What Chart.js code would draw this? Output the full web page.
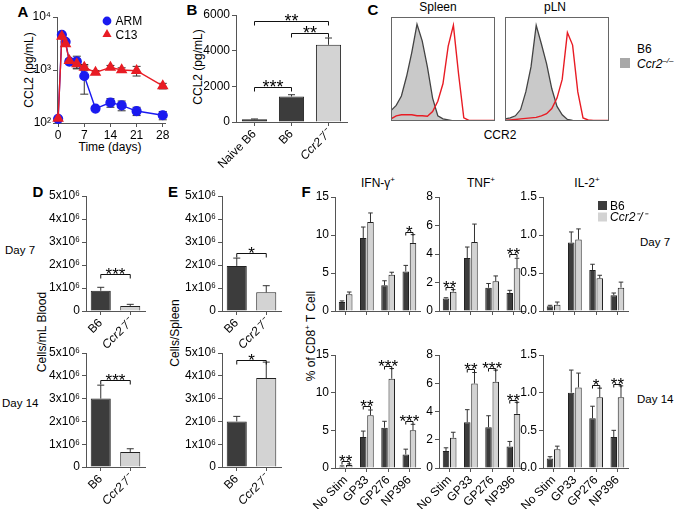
<!DOCTYPE html>
<html>
<head>
<meta charset="utf-8">
<script src="https://cdn.jsdelivr.net/npm/chart.js@4.4.1/dist/chart.umd.min.js"></script>
<style>
  html, body { margin: 0; padding: 0; background: #fff; }
  #fig { position: relative; width: 675px; height: 509px; overflow: hidden;
         font-family: 'Liberation Sans', Arial, Helvetica, sans-serif; color: #000; }
  #fig canvas { position: absolute; }
  .t { position: absolute; font-size: 12px; white-space: nowrap; line-height: 1; }
  .letter { font-weight: bold; font-size: 15px; }
  .rot { transform: translate(-50%, -50%) rotate(-90deg); }
  .ctr { transform: translate(-50%, -50%); }
  .mid { transform: translateY(-50%); }
  .it { font-style: italic; }
  .sp { font-size: 8px; position: relative; top: -5px; }
  .day { font-size: 11.5px; }
</style>
</head>
<body>
<div id="fig">
  <div class="t letter ctr" style="left:23px;top:11px">A</div>
  <div class="t letter ctr" style="left:192px;top:9px">B</div>
  <div class="t letter ctr" style="left:373px;top:9px">C</div>
  <div class="t letter ctr" style="left:38px;top:191px">D</div>
  <div class="t letter ctr" style="left:173px;top:191px">E</div>
  <div class="t letter ctr" style="left:306px;top:191px">F</div>

  <div class="t rot" style="left:29px;top:70px">CCL2 (pg/mL)</div>
  <div class="t ctr" style="left:110px;top:147px">Time (days)</div>
  <div class="t rot" style="left:198px;top:67px">CCL2 (pg/mL)</div>

  <div class="t ctr" style="left:438px;top:7px">Spleen</div>
  <div class="t ctr" style="left:555px;top:7px">pLN</div>
  <div class="t ctr" style="left:500px;top:135px">CCR2</div>
  <div class="t mid" style="left:637px;top:49px">B6</div>
  <div style="position:absolute;left:620px;top:58px;width:10px;height:10px;background:#a8a8a8"></div>
  <div class="t mid it" style="left:637px;top:64px">Ccr2<span class="sp">–/–</span></div>

  <div class="t rot" style="left:42px;top:332px">Cells/mL Blood</div>
  <div class="t rot" style="left:175px;top:333px">Cells/Spleen</div>
  <div class="t mid day" style="left:5px;top:251px">Day 7</div>
  <div class="t mid day" style="left:2px;top:404px">Day 14</div>

  <div class="t rot" style="left:311px;top:336px">% of CD8<span class="sp">+</span> T Cell</div>
  <div class="t ctr" style="left:378px;top:183px">IFN-γ<span class="sp">+</span></div>
  <div class="t ctr" style="left:481px;top:183px">TNF<span class="sp">+</span></div>
  <div class="t ctr" style="left:587px;top:183px">IL-2<span class="sp">+</span></div>
  <div class="t mid day" style="left:640px;top:243px">Day 7</div>
  <div class="t mid day" style="left:637px;top:400px">Day 14</div>

  <canvas id="cA"></canvas>
  <canvas id="cB"></canvas>
  <canvas id="cSpleen"></canvas>
  <canvas id="cLN"></canvas>
  <canvas id="cD7"></canvas>
  <canvas id="cD14"></canvas>
  <canvas id="cE7"></canvas>
  <canvas id="cE14"></canvas>
  <canvas id="cIfn7"></canvas>
  <canvas id="cTnf7"></canvas>
  <canvas id="cIl7"></canvas>
  <canvas id="cIfn14"></canvas>
  <canvas id="cTnf14"></canvas>
  <canvas id="cIl14"></canvas>
</div>

<script>
// A: serum CCL2 over time
const daysA = [0, 1, 2, 3, 5, 7, 10, 14, 17, 21, 28];
const armCCL2 = [120, 4600, 3400, 1440, 1450, 770, 187, 243, 215, 168, 140];
const armErr = [8, 350, 250, 120, 370, 420, 15, 45, 45, 30, 25];
const c13CCL2 = [122, 4300, 3100, 1500, 1300, 1120, 900, 1120, 1000, 970, 500];
const c13Err = [8, 300, 200, 120, 250, 150, 80, 100, 100, 200, 60];
const dayTicks = [0, 7, 14, 21, 28];
const dayLabels = ['0', '7', '14', '21', '28'];
const ccl2LogTicks = [100, 1000, 10000];
const ccl2LogLabels = ['10²', '10³', '10⁴'];

// B: CCL2 by mouse group
const groupsB = ['Naive B6', 'B6', 'Ccr2⁻/⁻'];
const ccl2B = [150, 1430, 4330];
const ccl2BErr = [20, 100, 380];
const ccl2BTicks = [0, 2000, 4000, 6000];
const ccl2BLabels = ['0', '2000', '4000', '6000'];
const sigB = [[0, 2, 5690, '**'], [1, 2, 4985, '**'], [0, 1, 1960, '***']];

// C: CCR2 histograms (% of max)
const ccr2Bins = [0, 5, 10, 15, 20, 25, 30, 35, 40, 45, 50, 55, 60, 65, 70, 75, 80, 85, 90, 95, 100];
const spleenKo = [10, 15, 24, 43, 66, 93, 77, 52, 22, 5, 2, 1, 0, 0, 0, 0, 0, 0, 0, 0, 0];
const spleenB6 = [2, 5, 6, 6, 6, 5, 5, 4.5, 9, 19, 36, 72, 92, 45, 3, 0.5, 0.5, 0.5, 0.5, 0.5, 0.5];
const lnKo = [2, 3, 5, 11, 28, 52, 92, 74, 55, 31, 14, 6, 1.5, 0.5, 0, 0, 0, 0, 0, 0, 0];
const lnB6 = [0.5, 1, 1.5, 2, 2.5, 3, 3.5, 5, 7, 12, 22, 40, 85, 73, 28, 3, 1, 0.5, 0.5, 0.5, 0.5];

// D/E: cell counts
const mice = ['B6', 'Ccr2⁻/⁻'];
const bloodD7 = [0.88e6, 0.22e6], bloodD7Err = [0.15e6, 0.07e6];
const bloodD14 = [3.0e6, 0.66e6], bloodD14Err = [0.59e6, 0.14e6];
const spleenD7 = [1.96e6, 0.81e6], spleenD7Err = [0.34e6, 0.29e6];
const spleenD14 = [2.0e6, 3.9e6], spleenD14Err = [0.22e6, 0.7e6];
const cellTicks = [0, 1e6, 2e6, 3e6, 4e6, 5e6];
const cellLabels = ['0', '1x10⁶', '2x10⁶', '3x10⁶', '4x10⁶', '5x10⁶'];
const sigBloodD7 = [[0, 1, 1.6e6, '***']];
const sigBloodD14 = [[0, 1, 3.8e6, '***']];
const sigSpleenD7 = [[0, 1, 2.53e6, '*']];
const sigSpleenD14 = [[0, 1, 4.71e6, '*']];

// F: cytokine+ CD8 T cells
const peptides = ['No Stim', 'GP33', 'GP276', 'NP396'];
const ifnB6D7 = [1.18, 9.6, 3.38, 5.2], ifnB6D7Err = [0.15, 1.45, 0.6, 0.8];
const ifnKoD7 = [2.2, 11.7, 4.78, 8.95], ifnKoD7Err = [0.3, 1.2, 0.32, 1.1];
const tnfB6D7 = [0.88, 3.72, 1.63, 1.27], tnfB6D7Err = [0.05, 0.77, 0.3, 0.18];
const tnfKoD7 = [1.35, 4.84, 2.08, 3.0], tnfKoD7Err = [0.15, 1.26, 0.38, 0.7];
const il2B6D7 = [0.062, 0.9, 0.54, 0.207], il2B6D7Err = [0.013, 0.14, 0.075, 0.03];
const il2KoD7 = [0.083, 0.94, 0.43, 0.307], il2KoD7Err = [0.035, 0.14, 0.04, 0.073];
const ifnB6D14 = [0.18, 4.1, 5.35, 1.8], ifnB6D14Err = [0.1, 0.8, 0.85, 0.7];
const ifnKoD14 = [0.4, 7.0, 11.85, 5.0], ifnKoD14Err = [0.15, 0.7, 1.35, 0.8];
const tnfB6D14 = [1.2, 3.24, 2.89, 1.53], tnfB6D14Err = [0.23, 0.89, 0.81, 0.35];
const tnfKoD14 = [2.14, 5.98, 6.1, 3.83], tnfKoD14Err = [0.39, 0.78, 0.83, 0.82];
const il2B6D14 = [0.125, 1.0, 0.66, 0.41], il2B6D14Err = [0.025, 0.3, 0.16, 0.09];
const il2KoD14 = [0.25, 1.07, 0.94, 0.94], il2KoD14Err = [0.04, 0.19, 0.12, 0.15];
const ifnTicks = [0, 5, 10, 15], ifnLabels = ['0', '5', '10', '15'];
const tnfTicks = [0, 2, 4, 6, 8], tnfLabels = ['0', '2', '4', '6', '8'];
const il2Ticks = [0, 0.5, 1, 1.5], il2Labels = ['0.0', '0.5', '1.0', '1.5'];
const sigIfnD7 = [[3, 10.4, '*']];
const sigTnfD7 = [[0, 1.7, '**'], [3, 4.03, '**']];
const sigIfnD14 = [[0, 0.93, '**'], [1, 8.2, '**'], [2, 13.6, '***'], [3, 6.3, '***']];
const sigTnfD14 = [[1, 7.0, '**'], [2, 7.11, '***'], [3, 4.82, '**']];
const sigIl2D14 = [[2, 1.1, '*'], [3, 1.115, '**']];

const FONT = "'Liberation Sans', Arial, Helvetica, sans-serif";
const AXIS = '#555';
const EDGE = '#222';
const DARK = '#3c3c3c';
const LIGHT = '#d3d3d3';
const NAIVE = '#151515';
const BLUE = '#1a1af0';
const RED = '#e81c24';

Chart.defaults.font.family = FONT;
Chart.defaults.font.size = 12;
Chart.defaults.color = '#000';

const isGene = s => typeof s === 'string' && s.startsWith('Ccr2');

function drawMarker(ctx, style, r, x, y) {
  ctx.beginPath();
  if (style === 'triangle') {
    for (let k = 0; k < 3; k++) {
      const a = k * 2 * Math.PI / 3;
      const px = x + Math.sin(a) * r, py = y - Math.cos(a) * r;
      k ? ctx.lineTo(px, py) : ctx.moveTo(px, py);
    }
    ctx.closePath();
  } else {
    ctx.arc(x, y, r, 0, Math.PI * 2);
  }
  ctx.fill();
}

function drawErrors(chart, both) {
  const { ctx } = chart;
  chart.data.datasets.forEach((ds, i) => {
    if (!ds.errors) return;
    const meta = chart.getDatasetMeta(i);
    const ys = chart.scales[meta.yAxisID];
    ctx.save();
    ctx.strokeStyle = '#333';
    ctx.lineWidth = 1;
    meta.data.forEach((el, j) => {
      const v = ds.data[j], e = ds.errors[j];
      const val = typeof v === 'object' ? v.y : v;
      if (!e) return;
      const top = ys.getPixelForValue(val + e);
      const bot = both ? ys.getPixelForValue(Math.max(val - e, 1e-9)) : el.y;
      const cap = both ? 4 : Math.min(3.5, el.width * 0.35);
      ctx.beginPath();
      ctx.moveTo(el.x, bot); ctx.lineTo(el.x, top);
      ctx.moveTo(el.x - cap, top); ctx.lineTo(el.x + cap, top);
      if (both) { ctx.moveTo(el.x - cap, bot); ctx.lineTo(el.x + cap, bot); }
      ctx.stroke();
    });
    ctx.restore();
  });
}

const errorBars = {
  id: 'errorBars',
  beforeDatasetsDraw(chart) { if (chart.config.type === 'line') drawErrors(chart, true); },
  afterDatasetsDraw(chart) { if (chart.config.type === 'bar') drawErrors(chart, false); }
};

const sigBars = {
  id: 'sigBars',
  afterDatasetsDraw(chart, args, o) {
    if (!o || !o.items) return;
    const { ctx } = chart;
    const ys = chart.scales.y;
    ctx.save();
    ctx.strokeStyle = '#111';
    ctx.fillStyle = '#000';
    ctx.lineWidth = 1;
    o.items.forEach(it => {
      const xa = chart.getDatasetMeta(it.from[0]).data[it.from[1]].x;
      const xb = chart.getDatasetMeta(it.to[0]).data[it.to[1]].x;
      const py = Math.round(ys.getPixelForValue(it.y)) + 0.5;
      ctx.beginPath();
      ctx.moveTo(xa, py + o.drop); ctx.lineTo(xa, py); ctx.lineTo(xb, py); ctx.lineTo(xb, py + o.drop);
      ctx.stroke();
      ctx.font = o.size + 'px ' + FONT;
      ctx.textAlign = 'center';
      ctx.textBaseline = 'alphabetic';
      ctx.fillText(it.text, (xa + xb) / 2, py + o.size * 0.3);
    });
    ctx.restore();
  }
};

const keyBox = {
  id: 'keyBox',
  afterDraw(chart, args, o) {
    if (!o || o.x === undefined) return;
    const { ctx, chartArea } = chart;
    chart.data.datasets.forEach((ds, i) => {
      const cx = chartArea.left + o.x, cy = chartArea.top + o.y + i * o.gap;
      ctx.save();
      if (chart.config.type === 'line') {
        ctx.fillStyle = ds.pointBackgroundColor;
        drawMarker(ctx, ds.pointStyle, ds.pointRadius, cx, cy);
      } else {
        ctx.fillStyle = ds.backgroundColor;
        ctx.fillRect(cx - o.size / 2, cy - o.size / 2, o.size, o.size);
      }
      ctx.fillStyle = '#000';
      ctx.font = (isGene(ds.label) ? 'italic ' : '') + '12px ' + FONT;
      ctx.textBaseline = 'middle';
      ctx.textAlign = 'left';
      ctx.fillText(ds.label, cx + o.dx, cy + 1);
      ctx.restore();
    });
  }
};

const frame = {
  id: 'frame',
  afterDraw(chart, args, o) {
    if (!o || !o.show) return;
    const { ctx, chartArea: a } = chart;
    ctx.save();
    ctx.strokeStyle = '#666';
    ctx.lineWidth = 1;
    ctx.strokeRect(Math.round(a.left) + 0.5, Math.round(a.top) + 0.5,
                   Math.round(a.right - a.left) - 1, Math.round(a.bottom - a.top) - 1);
    ctx.restore();
  }
};

Chart.register(errorBars, sigBars, keyBox, frame);

// size and place a canvas so that its chart area lands on `area`
function place(id, area, pad) {
  const c = document.getElementById(id);
  const w = area.r - area.l + pad.l + pad.r;
  const h = area.b - area.t + pad.t + pad.b;
  c.width = w; c.height = h;
  c.style.width = w + 'px'; c.style.height = h + 'px';
  c.style.left = (area.l - pad.l) + 'px';
  c.style.top = (area.t - pad.t) + 'px';
  return c;
}

function baseOptions(pad, scales, plugins) {
  return {
    responsive: false, animation: false, events: [],
    layout: { padding: { top: pad.t, right: pad.r, left: 0, bottom: 0 } },
    plugins: Object.assign({ legend: { display: false }, tooltip: { enabled: false } }, plugins),
    scales
  };
}

function valueAxis(w, tickValues, tickLabels, extra) {
  return Object.assign({
    type: 'linear',
    min: tickValues[0], max: tickValues[tickValues.length - 1],
    afterBuildTicks: s => { s.ticks = tickValues.map(v => ({ value: v })); },
    ticks: { callback: (v, i) => tickLabels[i], padding: 2, font: { size: 12 } },
    grid: { drawOnChartArea: false, tickLength: 4, color: AXIS, lineWidth: 1 },
    border: { color: AXIS, width: 1 },
    afterFit: s => { s.width = w; s.paddingTop = 0; s.paddingBottom = 0; }
  }, extra || {});
}

function groupAxis(h, labels, show) {
  return {
    type: 'category', offset: true,
    grid: { offset: false, drawOnChartArea: false, tickLength: 4, color: AXIS, lineWidth: 1 },
    border: { color: AXIS, width: 1 },
    ticks: {
      display: show, autoSkip: false, minRotation: 45, maxRotation: 45, padding: 1,
      font: c => ({ size: 12, style: isGene(labels[c.index]) ? 'italic' : 'normal' })
    },
    afterFit: s => { s.height = h; s.paddingLeft = 0; s.paddingRight = 0; }
  };
}

const betweenGroups = list => list.map(([a, b, y, text]) => ({ from: [0, a], to: [0, b], y, text }));
const withinGroup = list => list.map(([g, y, text]) => ({ from: [0, g], to: [1, g], y, text }));

// ---- A ----
const padA = { l: 30, r: 8, t: 9, b: 20 };
new Chart(place('cA', { l: 57, t: 17, r: 165, b: 123 }, padA), {
  type: 'line',
  data: {
    datasets: [
      { label: 'ARM', data: daysA.map((d, i) => ({ x: d, y: armCCL2[i] })), errors: armErr,
        borderColor: BLUE, backgroundColor: BLUE, pointBackgroundColor: BLUE, pointBorderColor: BLUE,
        pointStyle: 'circle', pointRadius: 4.4, borderWidth: 1.4, clip: false, order: 2 },
      { label: 'C13', data: daysA.map((d, i) => ({ x: d, y: c13CCL2[i] })), errors: c13Err,
        borderColor: RED, backgroundColor: RED, pointBackgroundColor: RED, pointBorderColor: RED,
        pointStyle: 'triangle', pointRadius: 5.3, borderWidth: 1.4, clip: false, order: 1 }
    ]
  },
  options: baseOptions(padA, {
    x: {
      type: 'linear', min: -0.3, max: 28.6,
      afterBuildTicks: s => { s.ticks = dayTicks.map(v => ({ value: v })); },
      ticks: { callback: (v, i) => dayLabels[i], padding: 1, maxRotation: 0 },
      grid: { drawOnChartArea: false, tickLength: 4, color: AXIS },
      border: { color: AXIS, width: 1 },
      afterFit: s => { s.height = padA.b; s.paddingLeft = 0; s.paddingRight = 0; }
    },
    y: valueAxis(padA.l, ccl2LogTicks, ccl2LogLabels, { type: 'logarithmic' })
  }, { keyBox: { x: 50, y: 4, gap: 13.4, dx: 8.5, size: 9 } })
});

// ---- B ----
const padB = { l: 42, r: 8, t: 8, b: 58 };
new Chart(place('cB', { l: 236, t: 15, r: 347, b: 122 }, padB), {
  type: 'bar',
  data: {
    labels: groupsB,
    datasets: [{ label: 'CCL2', data: ccl2B, errors: ccl2BErr,
      backgroundColor: [NAIVE, DARK, LIGHT], borderColor: EDGE, borderWidth: 1,
      barPercentage: 0.68, categoryPercentage: 1 }]
  },
  options: baseOptions(padB, {
    x: groupAxis(padB.b, groupsB, true),
    y: valueAxis(padB.l, ccl2BTicks, ccl2BLabels)
  }, { sigBars: { items: betweenGroups(sigB), drop: 4, size: 18 } })
});

// ---- C ----
function histChart(id, area, ko, b6) {
  const pad = { l: 1, r: 1, t: 1, b: 1 };
  new Chart(place(id, area, pad), {
    type: 'line',
    data: {
      labels: ccr2Bins,
      datasets: [
        { label: 'B6', data: b6, borderColor: RED, borderWidth: 1.4, pointRadius: 0, fill: false, order: 0 },
        { label: 'Ccr2⁻/⁻', data: ko, borderColor: '#444', borderWidth: 1.3, pointRadius: 0,
          fill: 'origin', backgroundColor: '#c9c9c9', order: 1 }
      ]
    },
    options: baseOptions(pad, {
      x: { display: false, offset: false, afterFit: s => { s.paddingLeft = 0; s.paddingRight = 0; } },
      y: { display: false, min: 0, max: 100 }
    }, { frame: { show: true } })
  });
}
histChart('cSpleen', { l: 392, t: 17, r: 495, b: 120 }, spleenKo, spleenB6);
histChart('cLN', { l: 506, t: 17, r: 609, b: 120 }, lnKo, lnB6);

// ---- D / E ----
function miceChart(id, area, values, errs, sig) {
  const pad = { l: 42, r: 6, t: 10, b: 42 };
  new Chart(place(id, area, pad), {
    type: 'bar',
    data: {
      labels: mice,
      datasets: [{ label: 'cells', data: values, errors: errs,
        backgroundColor: [DARK, LIGHT], borderColor: EDGE, borderWidth: 1,
        barPercentage: 0.68, categoryPercentage: 1 }]
    },
    options: baseOptions(pad, {
      x: groupAxis(pad.b, mice, true),
      y: valueAxis(pad.l, cellTicks, cellLabels)
    }, { sigBars: { items: betweenGroups(sig), drop: 4, size: 17 } })
  });
}
miceChart('cD7', { l: 86, t: 196, r: 145, b: 311 }, bloodD7, bloodD7Err, sigBloodD7);
miceChart('cD14', { l: 86, t: 353, r: 145, b: 467 }, bloodD14, bloodD14Err, sigBloodD14);
miceChart('cE7', { l: 222, t: 196, r: 281, b: 311 }, spleenD7, spleenD7Err, sigSpleenD7);
miceChart('cE14', { l: 222, t: 353, r: 281, b: 467 }, spleenD14, spleenD14Err, sigSpleenD14);

// ---- F ----
function cytoChart(id, area, pad, b6, b6Err, ko, koErr, tv, tl, sig, showLabels, key) {
  const plugins = { sigBars: { items: withinGroup(sig), drop: 3, size: 17 } };
  if (key) plugins.keyBox = key;
  new Chart(place(id, area, pad), {
    type: 'bar',
    data: {
      labels: peptides,
      datasets: [
        { label: 'B6', data: b6, errors: b6Err, backgroundColor: DARK, borderColor: EDGE, borderWidth: 1,
          barPercentage: 0.9, categoryPercentage: 0.68 },
        { label: 'Ccr2⁻/⁻', data: ko, errors: koErr, backgroundColor: LIGHT, borderColor: EDGE, borderWidth: 1,
          barPercentage: 0.9, categoryPercentage: 0.68 }
      ]
    },
    options: baseOptions(pad, {
      x: groupAxis(pad.b, peptides, showLabels),
      y: valueAxis(pad.l, tv, tl)
    }, plugins)
  });
}
const padTop = { l: 26, r: 4, t: 8, b: 6 };
const padBot = { l: 26, r: 4, t: 10, b: 42 };
cytoChart('cIfn7', { l: 335, t: 197, r: 420, b: 311 }, padTop, ifnB6D7, ifnB6D7Err, ifnKoD7, ifnKoD7Err, ifnTicks, ifnLabels, sigIfnD7, false);
cytoChart('cTnf7', { l: 439, t: 197, r: 524, b: 311 }, padTop, tnfB6D7, tnfB6D7Err, tnfKoD7, tnfKoD7Err, tnfTicks, tnfLabels, sigTnfD7, false);
cytoChart('cIl7', { l: 543, t: 197, r: 628, b: 311 }, { l: 26, r: 47, t: 8, b: 6 }, il2B6D7, il2B6D7Err, il2KoD7, il2KoD7Err, il2Ticks, il2Labels, [], false,
  { x: 59.5, y: 8.5, gap: 11.5, dx: 7.5, size: 9 });
cytoChart('cIfn14', { l: 335, t: 355, r: 420, b: 468 }, padBot, ifnB6D14, ifnB6D14Err, ifnKoD14, ifnKoD14Err, ifnTicks, ifnLabels, sigIfnD14, true);
cytoChart('cTnf14', { l: 439, t: 355, r: 524, b: 468 }, padBot, tnfB6D14, tnfB6D14Err, tnfKoD14, tnfKoD14Err, tnfTicks, tnfLabels, sigTnfD14, true);
cytoChart('cIl14', { l: 543, t: 355, r: 628, b: 468 }, padBot, il2B6D14, il2B6D14Err, il2KoD14, il2KoD14Err, il2Ticks, il2Labels, sigIl2D14, true);
</script>
</body>
</html>
